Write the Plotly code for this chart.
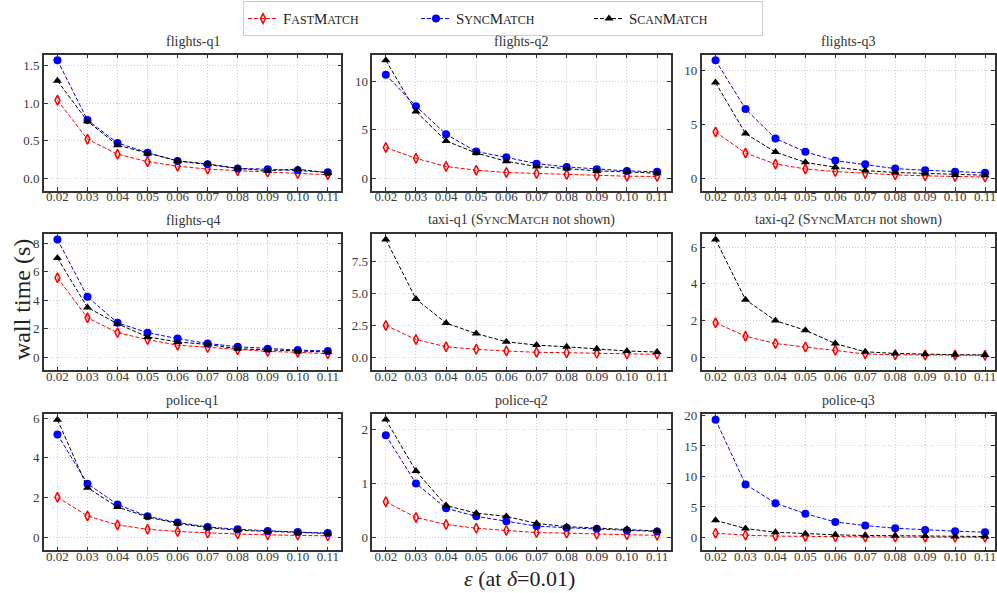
import plotly.graph_objects as go

eps = [0.02, 0.03, 0.04, 0.05, 0.06, 0.07, 0.08, 0.09, 0.10, 0.11]
eps_labels = ["0.02", "0.03", "0.04", "0.05", "0.06", "0.07", "0.08", "0.09", "0.10", "0.11"]

# flights-q1
fq1_fast = [1.04, 0.52, 0.32, 0.22, 0.16, 0.12, 0.10, 0.08, 0.06, 0.045]
fq1_sync = [1.575, 0.775, 0.47, 0.34, 0.23, 0.185, 0.13, 0.12, 0.105, 0.08]
fq1_scan = [1.30, 0.76, 0.44, 0.33, 0.23, 0.19, 0.13, 0.10, 0.12, 0.07]
# flights-q2
fq2_fast = [3.17, 2.05, 1.2, 0.82, 0.58, 0.48, 0.38, 0.27, 0.2, 0.17]
fq2_sync = [10.7, 7.45, 4.54, 2.76, 2.15, 1.5, 1.16, 0.92, 0.75, 0.65]
fq2_scan = [12.2, 6.9, 3.85, 2.6, 1.74, 1.2, 0.99, 0.75, 0.65, 0.5]
# flights-q3
fq3_fast = [4.27, 2.32, 1.31, 0.85, 0.61, 0.43, 0.30, 0.21, 0.15, 0.10]
fq3_sync = [10.9, 6.4, 3.66, 2.44, 1.62, 1.28, 0.88, 0.73, 0.58, 0.49]
fq3_scan = [8.84, 4.12, 2.41, 1.46, 1.0, 0.70, 0.52, 0.43, 0.30, 0.27]
# flights-q4
fq4_fast = [5.58, 2.77, 1.73, 1.24, 0.85, 0.69, 0.53, 0.41, 0.35, 0.25]
fq4_sync = [8.27, 4.24, 2.42, 1.73, 1.31, 0.97, 0.74, 0.60, 0.51, 0.44]
fq4_scan = [6.96, 3.5, 2.35, 1.43, 1.08, 0.90, 0.60, 0.51, 0.41, 0.37]
# taxi-q1
tq1_fast = [2.49, 1.39, 0.82, 0.62, 0.49, 0.39, 0.36, 0.31, 0.26, 0.23]
tq1_scan = [9.2, 4.55, 2.67, 1.85, 1.21, 0.95, 0.82, 0.67, 0.49, 0.41]
# taxi-q2
tq2_fast = [1.88, 1.15, 0.75, 0.56, 0.38, 0.18, 0.14, 0.13, 0.13, 0.11]
tq2_scan = [6.42, 3.14, 2.0, 1.47, 0.75, 0.30, 0.21, 0.16, 0.14, 0.13]
# police-q1
pq1_fast = [2.02, 1.08, 0.63, 0.41, 0.30, 0.22, 0.17, 0.13, 0.12, 0.08]
pq1_sync = [5.17, 2.7, 1.66, 1.06, 0.75, 0.53, 0.41, 0.33, 0.27, 0.22]
pq1_scan = [5.92, 2.5, 1.53, 1.03, 0.70, 0.50, 0.36, 0.30, 0.25, 0.20]
# police-q2
pq2_fast = [0.66, 0.37, 0.24, 0.17, 0.13, 0.09, 0.08, 0.06, 0.05, 0.04]
pq2_sync = [1.89, 1.0, 0.54, 0.39, 0.30, 0.21, 0.18, 0.16, 0.13, 0.11]
pq2_scan = [2.18, 1.23, 0.59, 0.45, 0.39, 0.26, 0.20, 0.17, 0.15, 0.12]
# police-q3
pq3_fast = [0.70, 0.38, 0.22, 0.16, 0.11, 0.08, 0.06, 0.05, 0.04, 0.03]
pq3_sync = [19.3, 8.7, 5.62, 3.89, 2.54, 1.95, 1.51, 1.24, 1.03, 0.86]
pq3_scan = [2.81, 1.46, 0.86, 0.59, 0.43, 0.32, 0.27, 0.22, 0.16, 0.16]

SM = "<span style='font-size:0.8em'>"
def sc(a, b):
    return a[0] + SM + a[1:].upper() + "</span>" + b[0] + SM + b[1:].upper() + "</span>"

FAST = sc("Fast", "Match")
SYNC = sc("Sync", "Match")
SCAN = sc("Scan", "Match")

panels = [
    ("flights-q1", fq1_fast, fq1_sync, fq1_scan, 0.5, ".1f"),
    ("flights-q2", fq2_fast, fq2_sync, fq2_scan, 5, "d"),
    ("flights-q3", fq3_fast, fq3_sync, fq3_scan, 5, "d"),
    ("flights-q4", fq4_fast, fq4_sync, fq4_scan, 2, "d"),
    ("taxi-q1 (" + SYNC + " not shown)", tq1_fast, None, tq1_scan, 2.5, ".1f"),
    ("taxi-q2 (" + SYNC + " not shown)", tq2_fast, None, tq2_scan, 2, "d"),
    ("police-q1", pq1_fast, pq1_sync, pq1_scan, 2, "d"),
    ("police-q2", pq2_fast, pq2_sync, pq2_scan, 1, "d"),
    ("police-q3", pq3_fast, pq3_sync, pq3_scan, 5, "d"),
]

W, H = 997, 593
col_px = [(44, 342), (373, 672), (703, 997)]
row_px = [(49, 187), (230, 368), (412, 550)]

FONT = "Liberation Serif"
fig = go.Figure()
annotations = []
layout = {}

for i, (title, fast, sync, scan, dt, fmt) in enumerate(panels):
    r, c = divmod(i, 3)
    n = i + 1
    xa = "x" if n == 1 else f"x{n}"
    ya = "y" if n == 1 else f"y{n}"
    series = [(FAST, fast, "red", "diamond-tall-open", 7),
              (SYNC, sync, "blue", "circle", 8),
              (SCAN, scan, "black", "triangle-up", 8)]
    for name, vals, color, sym, size in series:
        if vals is None:
            continue
        fig.add_trace(go.Scatter(
            x=eps, y=vals, xaxis=xa, yaxis=ya, mode="lines+markers", name=name,
            legendgroup=name, showlegend=(i == 0),
            line=dict(color=color, width=1, dash="4px,2px"),
            marker=dict(symbol=sym, size=size, color=color,
                        line=dict(color=color, width=1.5 if sym.endswith("open") else 0)),
        ))
    allv = fast + scan + (sync if sync else [])
    mx, mn = max(allv), min(allv)
    hi = mx + 0.05 * (mx - mn)
    lo = -0.105 * hi
    x0, x1 = col_px[c]
    y0, y1 = row_px[r]
    if c == 2:
        xr = [0.02 - 14 / 30.0 * 0.01, 0.11 + 10 / 30.0 * 0.01]
    else:
        xr = [0.02 - 0.45 * 0.01, 0.11 + 0.45 * 0.01]
    common = dict(showline=True, linecolor="#333333", linewidth=1.5, mirror="ticks",
                  ticks="inside", ticklen=4, tickcolor="#333333",
                  showgrid=True, gridcolor="#cfcfcf", griddash="1px,2px", gridwidth=1,
                  zeroline=False, tickfont=dict(family=FONT, size=13, color="#3a3a3a"))
    layout["xaxis" if n == 1 else f"xaxis{n}"] = dict(
        domain=[x0 / W, x1 / W], anchor=ya, range=xr,
        tickvals=eps, ticktext=eps_labels, ticklabelstandoff=-7, **common)
    layout["yaxis" if n == 1 else f"yaxis{n}"] = dict(
        domain=[1 - y1 / H, 1 - y0 / H], anchor=xa, range=[lo, hi],
        dtick=dt, tick0=0, tickformat=fmt, **common)
    annotations.append(dict(text=title, x=(x0 + x1) / 2 / W, y=1 - (y0 - 4) / H,
                            xref="paper", yref="paper", xanchor="center", yanchor="bottom",
                            showarrow=False, font=dict(family=FONT, size=14, color="#333333")))

annotations.append(dict(text="wall time (s)", x=22 / W, y=1 - 296 / H, xref="paper", yref="paper",
                        textangle=-90, showarrow=False, xanchor="center", yanchor="middle",
                        font=dict(family=FONT, size=24, color="#222222")))
annotations.append(dict(text="<i>ε</i> (at <i>δ</i>=0.01)", x=521 / W, y=1 - 578 / H,
                        xref="paper", yref="paper", showarrow=False, xanchor="center",
                        yanchor="middle", font=dict(family=FONT, size=22, color="#222222")))

fig.update_layout(
    width=W, height=H, margin=dict(l=0, r=0, t=0, b=0),
    paper_bgcolor="white", plot_bgcolor="white",
    annotations=annotations,
    legend=dict(orientation="h", x=504 / W, y=1.008, xanchor="center", yanchor="top",
                bordercolor="#cccccc", borderwidth=1, bgcolor="white",
                font=dict(family=FONT, size=15, color="#222222"),
                itemwidth=30, tracegroupgap=0, entrywidthmode="pixels", entrywidth=128),
    **layout,
)

fig.write_html("out.html", config={"displayModeBar": False},
               post_script="document.body.style.margin='0';document.body.style.padding='0';")
